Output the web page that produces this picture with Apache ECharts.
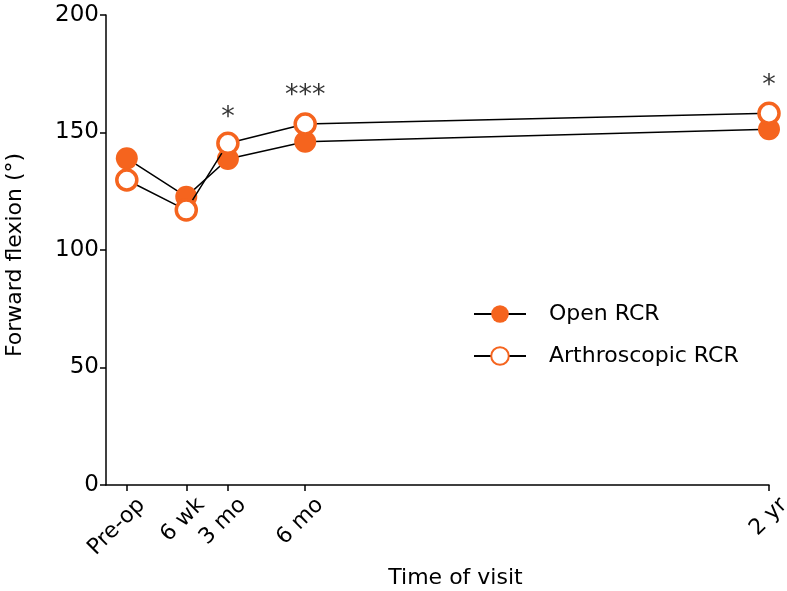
<!DOCTYPE html>
<html>
<head>
<meta charset="utf-8">
<script src="https://cdn.jsdelivr.net/npm/echarts@6/dist/echarts.min.js"></script>
<style>html,body{margin:0;padding:0;background:#fff}#c{width:787px;height:591px}</style>
</head>
<body>
<div id="c"></div>
<script>
// Time of visit in weeks relative to surgery
const visitWeeks = [-4, 6, 13, 26, 104];
const visitLabels = ['Pre-op', '6 wk', '3 mo', '6 mo', '2 yr'];
const openRCR = [139.0, 122.7, 138.7, 146.1, 151.4];
const arthroRCR = [129.8, 117.0, 145.4, 153.6, 158.2];
const sigWeeks = [13, 26, 104];
const sigMarks = ['*', '***', '*'];
const sigLevel = [156, 165.5, 170];
const yTicks = [0, 50, 100, 150, 200];

const ORANGE = '#F5641E';
const FONT = 'DejaVu Sans';

const chart = echarts.init(document.getElementById('c'), null, {renderer: 'canvas'});
chart.setOption({
  animation: false,
  textStyle: {fontFamily: FONT},
  grid: {left: 106, right: 18, top: 15, bottom: 106, containLabel: false, outerBoundsMode: 'none'},
  legend: {
    left: 468, top: 298, orient: 'vertical', itemGap: 20,
    itemWidth: 52, itemHeight: 22,
    textStyle: {fontFamily: FONT, fontSize: 22, color: '#000', padding: [0, 0, 0, 18]},
    data: ['Open RCR', 'Arthroscopic RCR']
  },
  xAxis: {
    type: 'value', min: -7.5, max: 104,
    name: 'Time of visit', nameLocation: 'middle', nameGap: 82,
    nameTextStyle: {fontFamily: FONT, fontSize: 22, color: '#000', padding: [0, 0, 0, 36]},
    axisLine: {show: true, onZero: false, lineStyle: {color: '#000', width: 1.5}},
    axisTick: {show: true, length: 6, lineStyle: {color: '#000', width: 1.5}, customValues: visitWeeks},
    axisLabel: {
      customValues: visitWeeks, rotate: 45, fontSize: 22, color: '#000', margin: 16,
      verticalAlign: 'top', padding: [0, -10, 0, 0],
      formatter: v => visitLabels[visitWeeks.indexOf(v)]
    },
    splitLine: {show: false}
  },
  yAxis: {
    type: 'value', min: 0, max: 200, interval: 50,
    name: 'Forward flexion (°)', nameLocation: 'middle', nameGap: 80, nameRotate: 90,
    nameTextStyle: {fontFamily: FONT, fontSize: 22, color: '#000', padding: [0, 10, 0, 0]},
    axisLine: {show: true, onZero: false, lineStyle: {color: '#000', width: 1.5}},
    axisTick: {show: true, length: 6, lineStyle: {color: '#000', width: 1.5}},
    axisLabel: {fontSize: 23, color: '#000', margin: 7},
    splitLine: {show: false}
  },
  series: [
    {
      name: 'Open RCR', type: 'line', symbol: 'circle', symbolSize: 22,
      data: visitWeeks.map((w, i) => [w, openRCR[i]]),
      lineStyle: {color: '#000', width: 1.5},
      itemStyle: {color: ORANGE, borderColor: ORANGE, borderWidth: 0},
      z: 2
    },
    {
      name: 'Arthroscopic RCR', type: 'line', symbol: 'circle', symbolSize: 20,
      data: visitWeeks.map((w, i) => [w, arthroRCR[i]]),
      lineStyle: {color: '#000', width: 1.5},
      itemStyle: {color: '#fff', borderColor: ORANGE, borderWidth: 3.5},
      z: 3
    },
    {
      name: 'sig', type: 'scatter', symbolSize: 0, silent: true,
      data: sigWeeks.map((w, i) => [w, sigLevel[i], sigMarks[i]]),
      label: {show: true, position: 'inside', formatter: p => p.value[2], fontSize: 27, color: '#000', fontFamily: FONT}
    }
  ]
});
</script>
</body>
</html>
